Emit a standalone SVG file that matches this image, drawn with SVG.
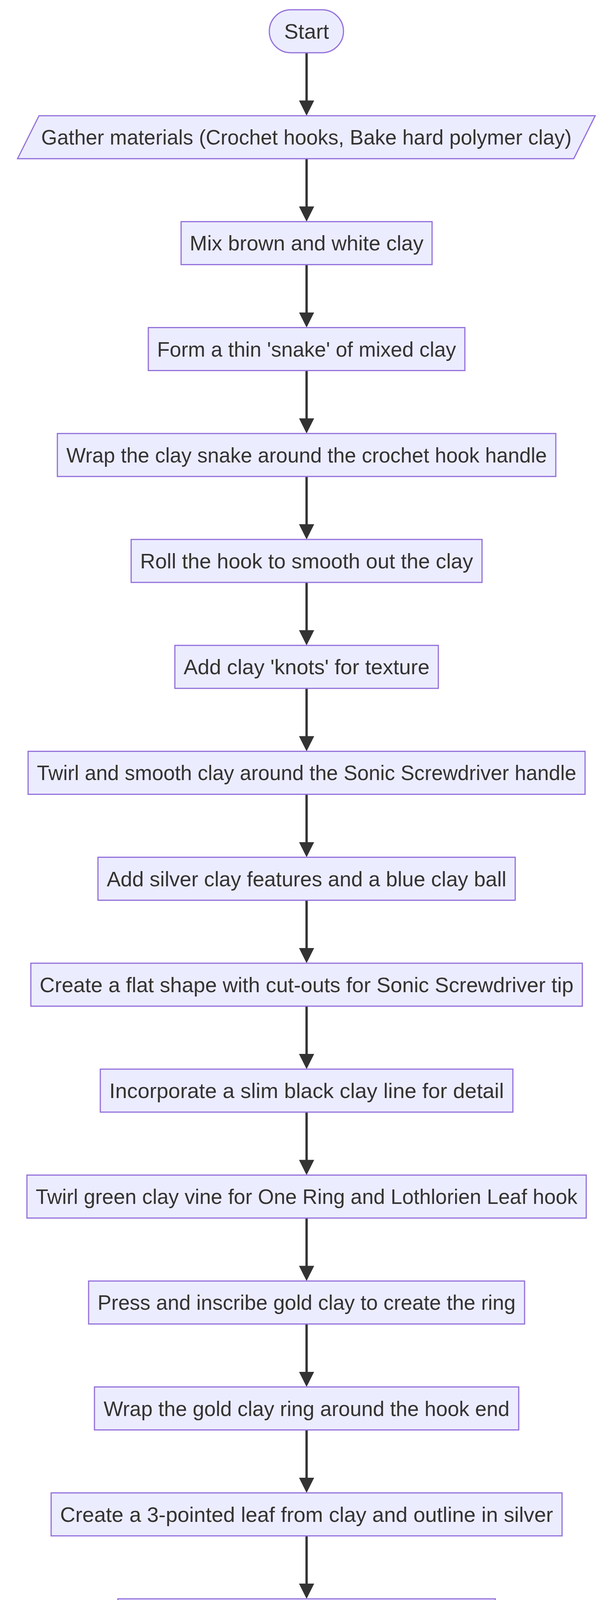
<svg xmlns="http://www.w3.org/2000/svg" width="1568" height="7686" viewBox="0 0 1568 7686">
<style>
.n{fill:#ECECFF;stroke:#9370DB;stroke-width:3}
.t{font-family:"Liberation Sans",Arial,sans-serif;font-size:53px;fill:#333333;text-anchor:middle}
.e{fill:none;stroke:#333333;stroke-width:6}
.lb{fill:#e8e8e8}
</style>
<defs>
<marker id="ah" viewBox="0 0 10 10" refX="7.44" refY="5" markerWidth="39" markerHeight="39" markerUnits="userSpaceOnUse" orient="auto">
<path d="M0,0 L10,5 L0,10 z" fill="#333333"/>
</marker>
</defs>
<rect width="1568" height="7686" fill="#ffffff"/>
<g id="connectors">
<path class="e" marker-end="url(#ah)" d="M785.5,135 V286.2"/>
<path class="e" marker-end="url(#ah)" d="M785.5,406.2 V557.4"/>
<path class="e" marker-end="url(#ah)" d="M785.5,677.4 V828.6"/>
<path class="e" marker-end="url(#ah)" d="M785.5,948.6 V1099.8"/>
<path class="e" marker-end="url(#ah)" d="M785.5,1219.8 V1371"/>
<path class="e" marker-end="url(#ah)" d="M785.5,1491 V1642.2"/>
<path class="e" marker-end="url(#ah)" d="M785.5,1762.2 V1913.4"/>
<path class="e" marker-end="url(#ah)" d="M785.5,2033.4 V2184.6"/>
<path class="e" marker-end="url(#ah)" d="M785.5,2304.6 V2455.8"/>
<path class="e" marker-end="url(#ah)" d="M785.5,2575.8 V2727"/>
<path class="e" marker-end="url(#ah)" d="M785.5,2847 V2998.2"/>
<path class="e" marker-end="url(#ah)" d="M785.5,3118.2 V3269.4"/>
<path class="e" marker-end="url(#ah)" d="M785.5,3389.4 V3540.6"/>
<path class="e" marker-end="url(#ah)" d="M785.5,3660.6 V3811.8"/>
<path class="e" marker-end="url(#ah)" d="M785.5,3931.8 V4083"/>
<path class="e" marker-end="url(#ah)" d="M785.5,4203 V4354.2"/>
<path class="e" marker-end="url(#ah)" d="M785.5,4474.2 V4625.4"/>
<path class="e" marker-end="url(#ah)" d="M785.5,4745.4 V4896.6"/>
<path class="e" marker-end="url(#ah)" d="M785.5,5016.6 V5167.8"/>
<path class="e" marker-end="url(#ah)" d="M785.5,5287.8 V5439"/>
<path class="e" marker-end="url(#ah)" d="M785.5,5559 V5710.2"/>
<path class="e" marker-end="url(#ah)" d="M663,5830 C540,5885 484,5915 484,5981"/>
<path class="e" marker-end="url(#ah)" d="M484,6101.4 C484,6210 530,6282 633.5,6400.9"/>
<path class="e" marker-end="url(#ah)" d="M932.5,6410 C1000,6290 1087,6170 1087,6076 L1087,6016 C1087,5920 1025,5890 919.7,5830"/>
<path class="e" marker-end="url(#ah)" d="M785.5,6977 V7190"/>
<path class="e" marker-end="url(#ah)" d="M785.5,7309 V7460"/>
<g id="label-no">
<rect class="lb" x="1057" y="6017" width="60" height="59"/>
<text class="t" x="1087" y="6065.5" textLength="58" lengthAdjust="spacingAndGlyphs">No</text>
</g>
<g id="label-yes">
<rect class="lb" x="749.5" y="7059" width="72" height="59"/>
<text class="t" x="785.5" y="7107" textLength="74" lengthAdjust="spacingAndGlyphs">Yes</text>
</g>
</g>
<g id="n0"><rect class="n" x="690" y="25" width="190" height="110" rx="55" ry="55"/><text class="t" x="785.5" y="99" textLength="115" lengthAdjust="spacingAndGlyphs">Start</text></g>
<g id="n1"><polygon class="n" points="100,296.2 1525,296.2 1470,406.2 45,406.2"/><text class="t" x="785" y="370.2" textLength="1359" lengthAdjust="spacingAndGlyphs">Gather materials (Crochet hooks, Bake hard polymer clay)</text></g>
<g id="n2"><rect class="n" x="464" y="567.4" width="643" height="110"/><text class="t" x="785.5" y="641.4" textLength="599" lengthAdjust="spacingAndGlyphs">Mix brown and white clay</text></g>
<g id="n3"><rect class="n" x="380" y="838.6" width="811" height="110"/><text class="t" x="785.5" y="912.6" textLength="766" lengthAdjust="spacingAndGlyphs">Form a thin 'snake' of mixed clay</text></g>
<g id="n4"><rect class="n" x="147" y="1109.8" width="1277" height="110"/><text class="t" x="785.5" y="1183.8" textLength="1231" lengthAdjust="spacingAndGlyphs">Wrap the clay snake around the crochet hook handle</text></g>
<g id="n5"><rect class="n" x="336" y="1381" width="899" height="110"/><text class="t" x="785.5" y="1455" textLength="853" lengthAdjust="spacingAndGlyphs">Roll the hook to smooth out the clay</text></g>
<g id="n6"><rect class="n" x="448" y="1652.2" width="675" height="110"/><text class="t" x="785.5" y="1726.2" textLength="630" lengthAdjust="spacingAndGlyphs">Add clay 'knots' for texture</text></g>
<g id="n7"><rect class="n" x="72" y="1923.4" width="1427" height="110"/><text class="t" x="785.5" y="1997.4" textLength="1382" lengthAdjust="spacingAndGlyphs">Twirl and smooth clay around the Sonic Screwdriver handle</text></g>
<g id="n8"><rect class="n" x="251" y="2194.6" width="1069" height="110"/><text class="t" x="785.5" y="2268.6" textLength="1024" lengthAdjust="spacingAndGlyphs">Add silver clay features and a blue clay ball</text></g>
<g id="n9"><rect class="n" x="79" y="2465.8" width="1413" height="110"/><text class="t" x="785.5" y="2539.8" textLength="1368" lengthAdjust="spacingAndGlyphs">Create a flat shape with cut-outs for Sonic Screwdriver tip</text></g>
<g id="n10"><rect class="n" x="257" y="2737" width="1057" height="110"/><text class="t" x="785.5" y="2811" textLength="1011" lengthAdjust="spacingAndGlyphs">Incorporate a slim black clay line for detail</text></g>
<g id="n11"><rect class="n" x="69" y="3008.2" width="1433" height="110"/><text class="t" x="785.5" y="3082.2" textLength="1388" lengthAdjust="spacingAndGlyphs">Twirl green clay vine for One Ring and Lothlorien Leaf hook</text></g>
<g id="n12"><rect class="n" x="227" y="3279.4" width="1117" height="110"/><text class="t" x="785.5" y="3353.4" textLength="1071" lengthAdjust="spacingAndGlyphs">Press and inscribe gold clay to create the ring</text></g>
<g id="n13"><rect class="n" x="242" y="3550.6" width="1087" height="110"/><text class="t" x="785.5" y="3624.6" textLength="1040" lengthAdjust="spacingAndGlyphs">Wrap the gold clay ring around the hook end</text></g>
<g id="n14"><rect class="n" x="131" y="3821.8" width="1309" height="110"/><text class="t" x="785.5" y="3895.8" textLength="1263" lengthAdjust="spacingAndGlyphs">Create a 3-pointed leaf from clay and outline in silver</text></g>
<g id="n15"><rect class="n" x="302" y="4093" width="967" height="110"/><text class="t" x="785.5" y="4167" textLength="922" lengthAdjust="spacingAndGlyphs">Cap the Lightsaber handle in black clay</text></g>
<g id="n16"><rect class="n" x="263" y="4364.2" width="1045" height="110"/><text class="t" x="785.5" y="4438.2" textLength="999" lengthAdjust="spacingAndGlyphs">Add small clay circle buttons to Lightsaber</text></g>
<g id="n17"><rect class="n" x="276" y="4635.4" width="1019" height="110"/><text class="t" x="785.5" y="4709.4" textLength="974" lengthAdjust="spacingAndGlyphs">Optionally, add blade color for Lightsaber</text></g>
<g id="n18"><rect class="n" x="228" y="4906.6" width="1115" height="110"/><text class="t" x="785.5" y="4980.6" textLength="1070" lengthAdjust="spacingAndGlyphs">Start with an all-silver clay base for Excalibur</text></g>
<g id="n19"><rect class="n" x="134" y="5177.8" width="1303" height="110"/><text class="t" x="785.5" y="5251.8" textLength="1256" lengthAdjust="spacingAndGlyphs">Add layers of gold and black clay for Excalibur handle</text></g>
<g id="n20"><rect class="n" x="45" y="5449" width="1481" height="110"/><text class="t" x="785.5" y="5523" textLength="1436" lengthAdjust="spacingAndGlyphs">Decorate with additional silver clay adornments for Excalibur</text></g>
<g id="n21"><rect class="n" x="245" y="5720.2" width="1081" height="110"/><text class="t" x="785.5" y="5794.2" textLength="1035" lengthAdjust="spacingAndGlyphs">Place prepared crochet hooks on oven sheet</text></g>
<g id="n22"><rect class="n" x="25" y="5991.4" width="917" height="110"/><text class="t" x="484.5" y="6065.4" textLength="870" lengthAdjust="spacingAndGlyphs">Bake according to package directions</text></g>
<g id="n23"><polygon class="n" points="785.5,6263 1142.5,6620 785.5,6977 428.5,6620"/><text class="t" x="785" y="6639" textLength="559" lengthAdjust="spacingAndGlyphs">Fully baked and cooled?</text></g>
<g id="n24"><polygon class="n" points="380,7200 1245,7200 1190,7309 325,7309"/><text class="t" x="785.5" y="7273.5" textLength="800" lengthAdjust="spacingAndGlyphs">Set of geek-themed crochet hooks</text></g>
<g id="n25"><rect class="n" x="705" y="7470" width="161" height="110" rx="55" ry="55"/><text class="t" x="785.5" y="7544" textLength="86" lengthAdjust="spacingAndGlyphs">End</text></g>
</svg>
